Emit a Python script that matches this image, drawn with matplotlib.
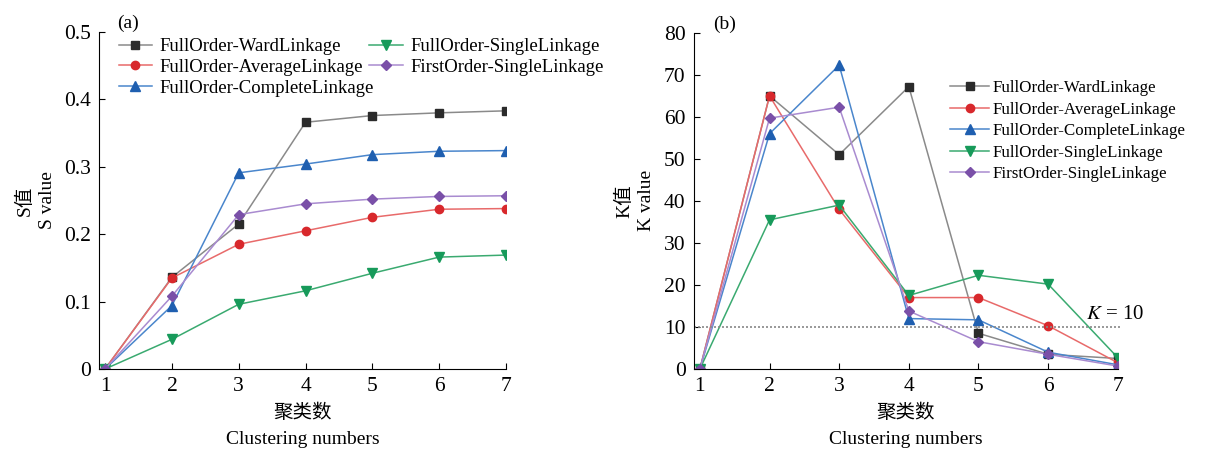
import matplotlib
matplotlib.use("Agg")
import matplotlib.pyplot as plt

plt.rcParams['font.family'] = ['Liberation Serif', 'Noto Sans CJK SC']
plt.rcParams['mathtext.fontset'] = 'stix'

clusters = [1, 2, 3, 4, 5, 6, 7]
labels = ["FullOrder-WardLinkage", "FullOrder-AverageLinkage", "FullOrder-CompleteLinkage",
          "FullOrder-SingleLinkage", "FirstOrder-SingleLinkage"]

s_ward = [0, 0.136, 0.215, 0.366, 0.376, 0.380, 0.383]
s_average = [0, 0.135, 0.185, 0.205, 0.225, 0.237, 0.238]
s_complete = [0, 0.094, 0.291, 0.304, 0.318, 0.323, 0.324]
s_single = [0, 0.044, 0.096, 0.116, 0.142, 0.166, 0.169]
s_first = [0, 0.108, 0.229, 0.245, 0.252, 0.256, 0.257]

k_ward = [0, 65, 51, 67.2, 8.5, 3.5, 2.5]
k_average = [0, 65, 38, 17, 17, 10.3, 1.5]
k_complete = [0, 56, 72.3, 12, 11.7, 4, 1]
k_single = [0, 35.5, 39, 17.5, 22.3, 20.2, 2.7]
k_first = [0, 59.7, 62.3, 13.8, 6.5, 3.5, 0.7]

line_colors = ["#8a8a8a", "#e86a6a", "#4a86cc", "#3aaa70", "#a98bd0"]
marker_colors = ["#2b2b2b", "#d8282c", "#1f5fb0", "#179a5a", "#7a50a8"]
markers = ["s", "o", "^", "v", "D"]
msizes = [5.5, 6, 6.5, 6.5, 5.5]


def draw(ax, series):
    for i, y in enumerate(series):
        ax.plot(clusters, y, color=line_colors[i], lw=1.1, marker=markers[i],
                markersize=msizes[i], markerfacecolor=marker_colors[i],
                markeredgecolor=marker_colors[i], label=labels[i])
    ax.spines['top'].set_visible(False)
    ax.spines['right'].set_visible(False)
    ax.tick_params(direction='in', labelsize=15.5, length=4, pad=6)
    ax.set_xticks(clusters)
    ax.set_xlabel("聚类数\nClustering numbers", fontsize=14, linespacing=1.75, labelpad=5)


fig = plt.figure(figsize=(12.11, 4.5), dpi=100)
ax1 = fig.add_axes([0.0818, 0.18, 0.336, 0.749])
ax2 = fig.add_axes([0.573, 0.18, 0.350, 0.747])

draw(ax1, [s_ward, s_average, s_complete, s_single, s_first])
ax1.set_xlim(0.91, 7)
ax1.set_ylim(0, 0.5)
ax1.set_yticks([0, 0.1, 0.2, 0.3, 0.4, 0.5])
ax1.set_yticklabels(["0", "0.1", "0.2", "0.3", "0.4", "0.5"])
ax1.set_ylabel("S值\nS value", fontsize=14, linespacing=1.4, labelpad=6)
ax1.text(0.045, 1.0, "(a)", transform=ax1.transAxes, fontsize=14, va='bottom')
ax1.legend(ncol=2, loc='upper left', bbox_to_anchor=(0.025, 1.01), frameon=False,
           fontsize=13.5, handlelength=1.8, handletextpad=0.4, columnspacing=-0.27,
           labelspacing=0.2, borderaxespad=0.1)

draw(ax2, [k_ward, k_average, k_complete, k_single, k_first])
ax2.set_xlim(0.914, 7)
ax2.set_ylim(0, 80)
ax2.set_yticks(range(0, 81, 10))
ax2.set_ylabel("K值\nK value", fontsize=14, linespacing=1.4, labelpad=6)
ax2.text(0.045, 1.0, "(b)", transform=ax2.transAxes, fontsize=14, va='bottom')
ax2.plot([0.914, 7.05], [10, 10], color="#888888", lw=1.2, ls=(0, (1.2, 1.2)), clip_on=False)
ax2.text(6.55, 10.8, "$K$ = 10", fontsize=15, ha='left', va='bottom')
ax2.legend(loc='upper left', bbox_to_anchor=(0.585, 0.885), frameon=False,
           fontsize=12.2, handlelength=2.3, handletextpad=0.2,
           labelspacing=0.33, borderaxespad=0.1)

fig.savefig("out.png", dpi=100)
